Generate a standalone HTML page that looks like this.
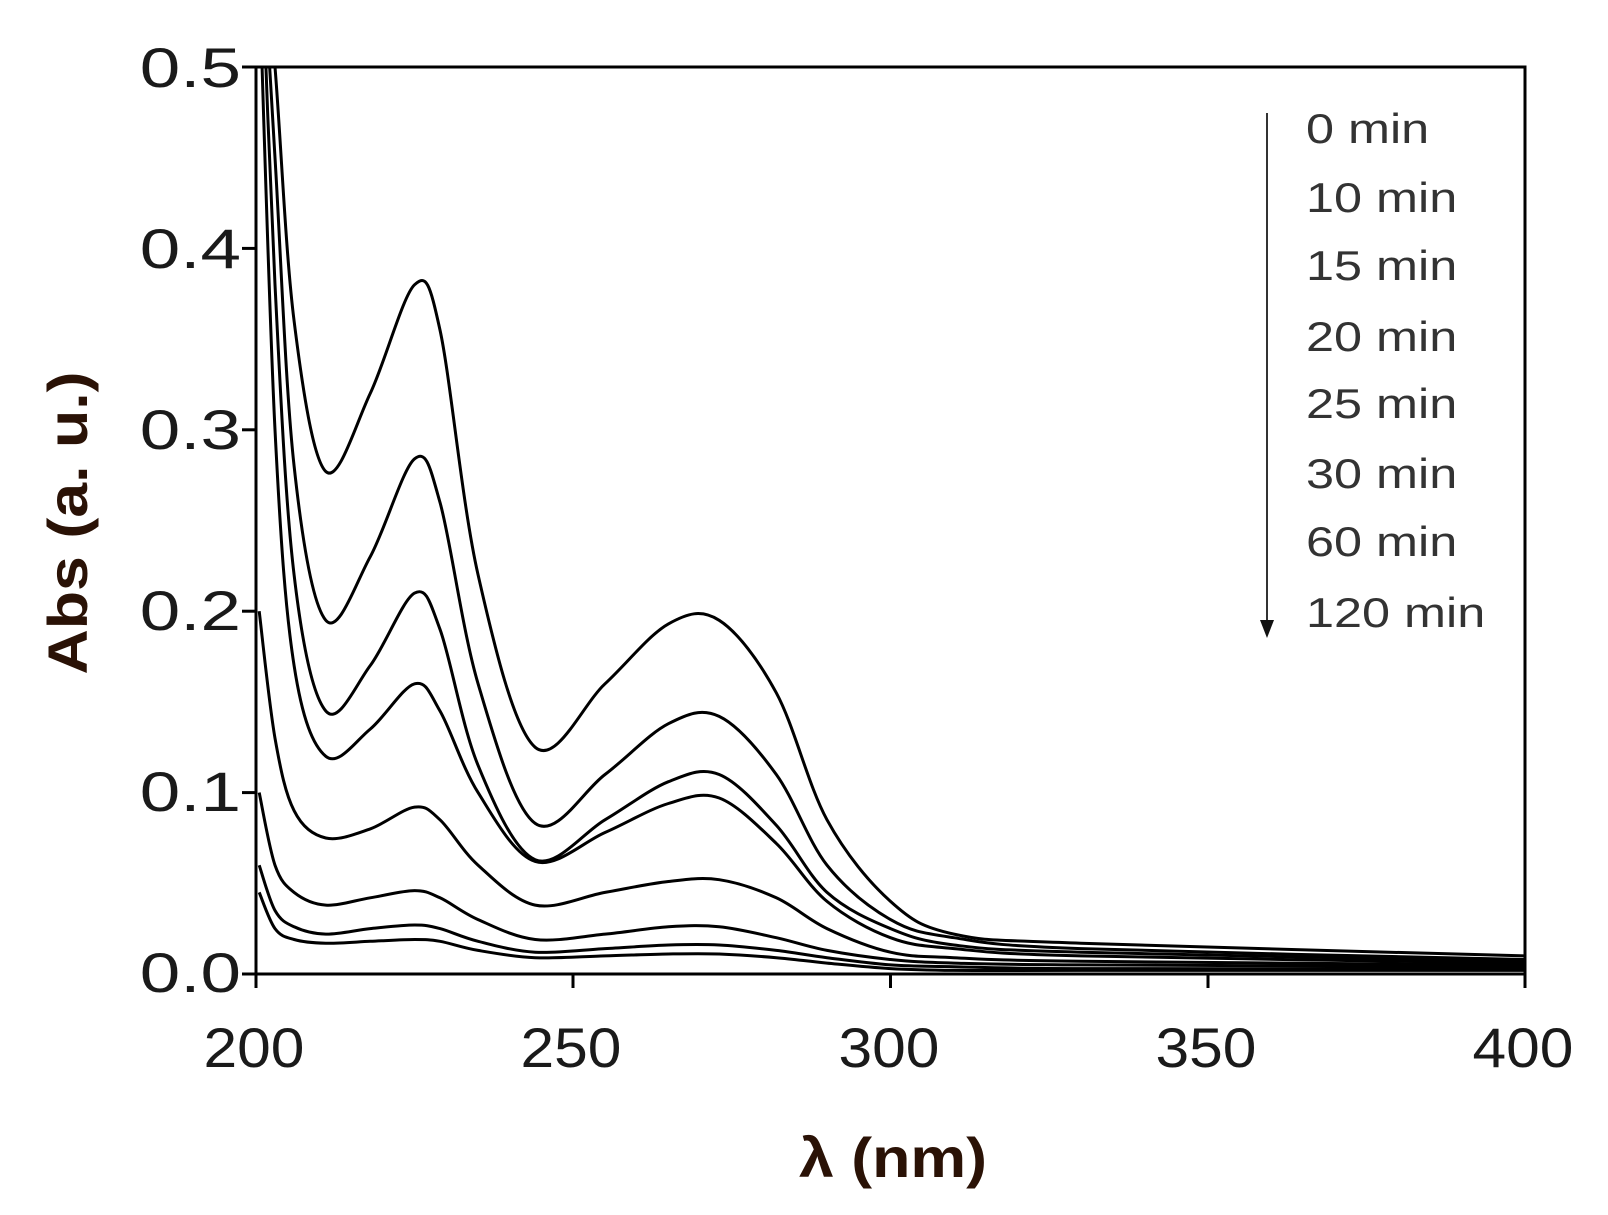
<!DOCTYPE html>
<html><head><meta charset="utf-8"><style>
html,body{margin:0;padding:0;background:#fff;}
svg{display:block;}
</style></head><body>
<svg id="s" width="1608" height="1215" xmlns="http://www.w3.org/2000/svg" font-family="Liberation Sans, Arial, sans-serif">
<defs><clipPath id="c"><rect x="256" y="67" width="1269" height="907"/></clipPath></defs>
<rect width="1608" height="1215" fill="#fff"/>
<g id="curves" clip-path="url(#c)" fill="none" stroke="#000" stroke-width="3" stroke-linejoin="round"></g>
<rect x="256" y="67" width="1269" height="907" fill="none" stroke="#000" stroke-width="3"/>
<g stroke="#000" stroke-width="3">
<line x1="242" y1="67" x2="256" y2="67"/><line x1="242" y1="248.4" x2="256" y2="248.4"/>
<line x1="242" y1="429.8" x2="256" y2="429.8"/><line x1="242" y1="611.2" x2="256" y2="611.2"/>
<line x1="242" y1="792.6" x2="256" y2="792.6"/><line x1="242" y1="974" x2="256" y2="974"/>
<line x1="256" y1="974" x2="256" y2="988"/><line x1="573" y1="974" x2="573" y2="988"/>
<line x1="890.5" y1="974" x2="890.5" y2="988"/><line x1="1208" y1="974" x2="1208" y2="988"/>
<line x1="1525" y1="974" x2="1525" y2="988"/>
</g>
<g font-size="56" fill="#1a1a1a" text-anchor="end">
<text transform="translate(241,87) scale(1.3,1)">0.5</text>
<text transform="translate(241,268) scale(1.3,1)">0.4</text>
<text transform="translate(241,449) scale(1.3,1)">0.3</text>
<text transform="translate(241,630) scale(1.3,1)">0.2</text>
<text transform="translate(241,811) scale(1.3,1)">0.1</text>
<text transform="translate(241,992) scale(1.3,1)">0.0</text>
</g>
<g font-size="56" fill="#1a1a1a" text-anchor="middle">
<text transform="translate(254,1067) scale(1.08,1)">200</text>
<text transform="translate(571,1067) scale(1.08,1)">250</text>
<text transform="translate(889,1067) scale(1.08,1)">300</text>
<text transform="translate(1206,1067) scale(1.08,1)">350</text>
<text transform="translate(1523,1067) scale(1.08,1)">400</text>
</g>
<text transform="translate(893,1177) scale(1.12,1)" font-size="56" font-weight="bold" fill="#2a1206" text-anchor="middle">λ (nm)</text>
<text transform="translate(87,523) rotate(-90) scale(1.12,1)" font-size="56" font-weight="bold" fill="#2a1206" text-anchor="middle">Abs (a. u.)</text>
<line x1="1267" y1="113" x2="1267" y2="622" stroke="#333" stroke-width="2"/>
<polygon points="1260,620 1274,620 1267,638" fill="#111"/>
<g font-size="42" fill="#333">
<text transform="translate(1306,143) scale(1.2,1)">0 min</text>
<text transform="translate(1306,212) scale(1.2,1)">10 min</text>
<text transform="translate(1306,280) scale(1.2,1)">15 min</text>
<text transform="translate(1306,351) scale(1.2,1)">20 min</text>
<text transform="translate(1306,418) scale(1.2,1)">25 min</text>
<text transform="translate(1306,488) scale(1.2,1)">30 min</text>
<text transform="translate(1306,556) scale(1.2,1)">60 min</text>
<text transform="translate(1306,627) scale(1.2,1)">120 min</text>
</g>
</svg>
<script>
var xs=[200.5,203,206,211,218,225,229,235,244,255,265,273,282,290,300,310,330,400];
var D=[
[0.6,0.5,0.36,0.277,0.32,0.38,0.355,0.22,0.125,0.16,0.193,0.195,0.155,0.085,0.04,0.022,0.017,0.01],
[0.6,0.45,0.28,0.195,0.23,0.284,0.26,0.16,0.083,0.11,0.138,0.142,0.11,0.06,0.03,0.02,0.014,0.008],
[0.6,0.38,0.22,0.145,0.17,0.21,0.19,0.115,0.063,0.085,0.106,0.11,0.082,0.045,0.025,0.016,0.012,0.007],
[0.55,0.3,0.17,0.12,0.135,0.16,0.145,0.1,0.062,0.078,0.094,0.097,0.072,0.04,0.02,0.014,0.01,0.006],
[0.2,0.13,0.09,0.075,0.08,0.092,0.085,0.06,0.038,0.045,0.051,0.052,0.042,0.025,0.012,0.009,0.007,0.005],
[0.1,0.06,0.045,0.038,0.042,0.046,0.042,0.03,0.019,0.022,0.026,0.026,0.02,0.013,0.008,0.006,0.005,0.004],
[0.06,0.035,0.026,0.022,0.025,0.027,0.025,0.018,0.012,0.014,0.016,0.016,0.013,0.009,0.005,0.004,0.003,0.003],
[0.045,0.025,0.019,0.017,0.018,0.019,0.018,0.013,0.009,0.01,0.011,0.011,0.009,0.006,0.003,0.002,0.002,0.002]];
function X(n){return 256+(n-200)*6.345;}function Y(a){return 974-a*1814;}
var g=document.getElementById('curves'),h='';
D.forEach(function(d){
 var p=xs.map(function(n,i){return [X(n),Y(d[i])];});
 var s='M'+p[0][0].toFixed(1)+','+p[0][1].toFixed(1);
 for(var i=0;i<p.length-1;i++){
  var p0=p[i>0?i-1:i],p1=p[i],p2=p[i+1],p3=p[i+2<p.length?i+2:i+1];
  var c1x=p1[0]+(p2[0]-p0[0])/6,c1y=p1[1]+(p2[1]-p0[1])/6;
  var c2x=p2[0]-(p3[0]-p1[0])/6,c2y=p2[1]-(p3[1]-p1[1])/6;
  s+=' C'+c1x.toFixed(1)+','+c1y.toFixed(1)+' '+c2x.toFixed(1)+','+c2y.toFixed(1)+' '+p2[0].toFixed(1)+','+p2[1].toFixed(1);
 }
 h+='<path d="'+s+'"/>';
});
g.innerHTML=h;
</script>
</body></html>
